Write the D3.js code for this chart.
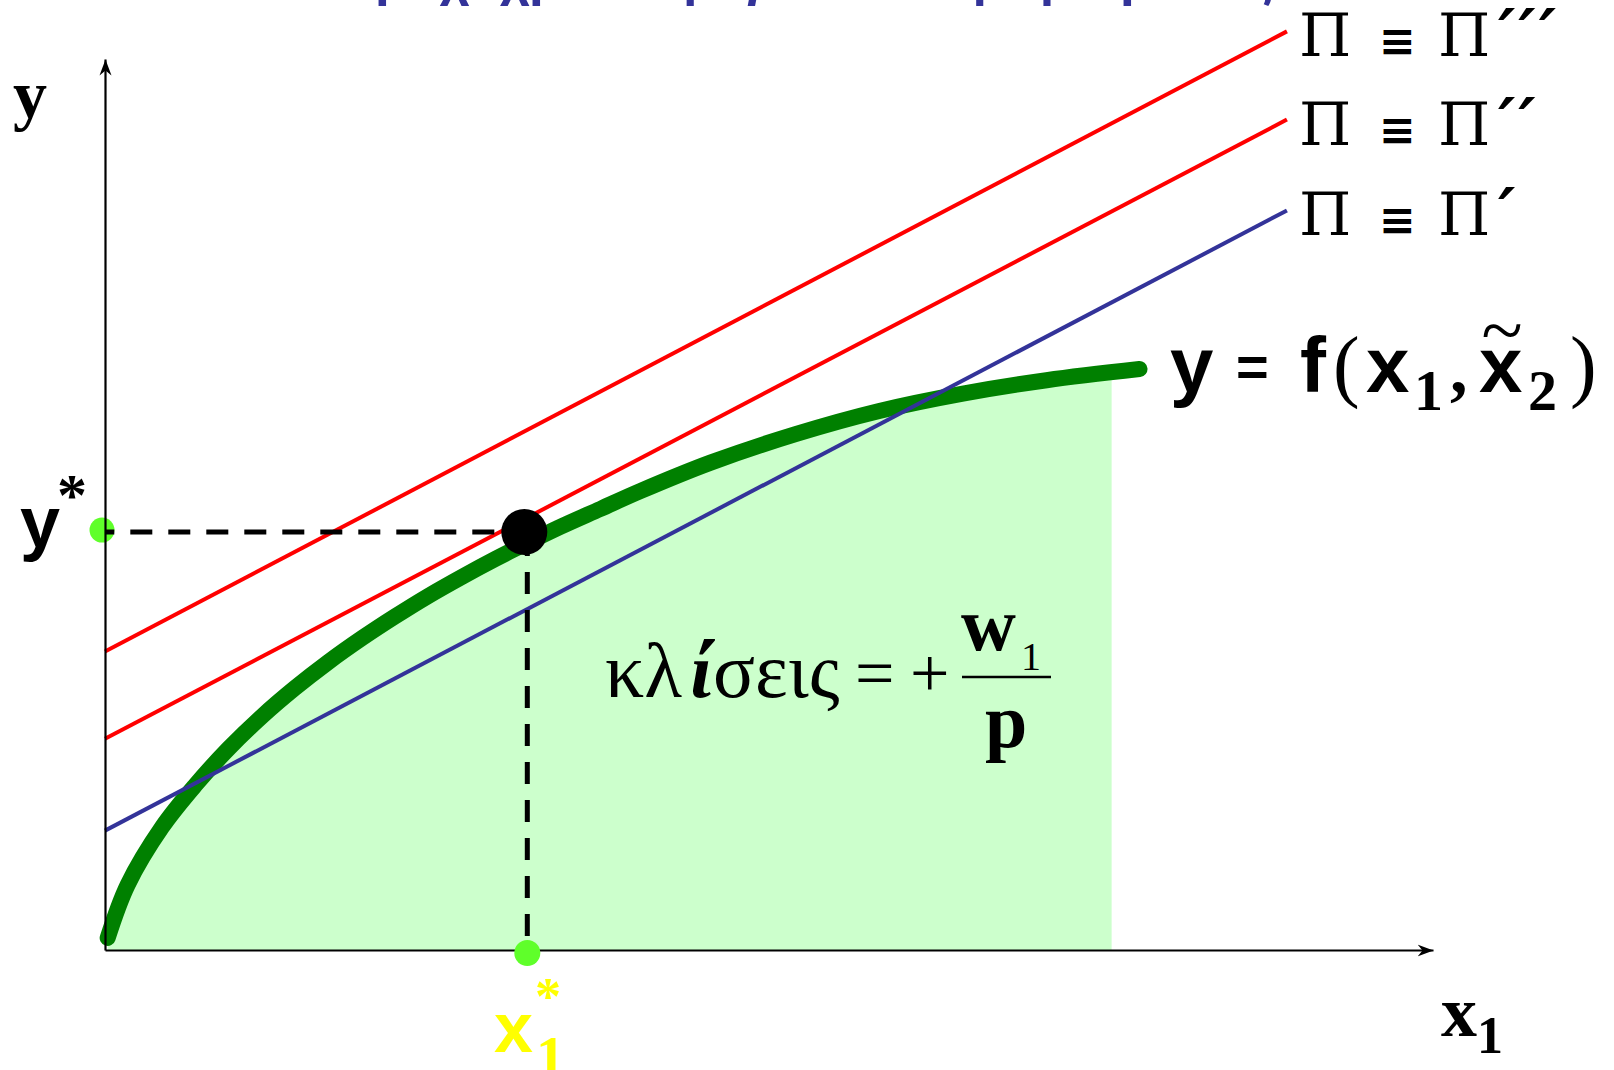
<!DOCTYPE html>
<html>
<head>
<meta charset="utf-8">
<script src="https://cdn.jsdelivr.net/npm/d3@7"></script>
<style>
  body { margin: 0; background: #fff; }
  svg { display: block; }
</style>
</head>
<body>
<svg id="chart" width="1614" height="1070"></svg>
<script>
// production function y = f(x1, x2~)
const curveX = [0.2, 1.7, 4.3, 6.8, 9.3, 11.8, 14.3, 16.8, 19.4, 21.8, 24.3, 26.9, 29.4, 31.6, 34.3, 37.3, 40.3, 45.6, 52.0, 58.3, 64.6, 70.9, 77.9];
const curveY = [1.35, 7.3, 13.8, 18.5, 22.6, 26.2, 29.4, 32.3, 35.05, 37.4, 39.7, 41.9, 43.9, 45.55, 47.5, 49.5, 51.5, 54.7, 57.9, 60.5, 62.45, 63.95, 65.2];
const fillEnd = 75.8;

// iso-profit lines, Π''' / Π'' / Π'
const isoPrimes = ["′′′", "′′", "′"];
const isoStartY = [33.5, 23.7, 13.4];
const isoEndY = [103.1, 93.2, 83.0];
const isoEndX = 89.0;

// optimum
const xStar = 31.8;
const yStar = 46.9;

const title = "Βραχυχρόνια μεγιστοποίηση κέρδους";

const svg = d3.select("#chart");
const x = d3.scaleLinear().domain([0, 100]).range([105, 1433]);
const y = d3.scaleLinear().domain([0, 100]).range([950, 59]);

const SERIF = "'Liberation Serif', 'Times New Roman', serif";
const SANS = "'Liberation Sans', Arial, sans-serif";
const DSERIF = "'DejaVu Serif', serif";

const curveData = curveX.map((v, i) => [v, curveY[i]]);

// arrow head for the axes
const defs = svg.append("defs");
defs.append("marker")
  .attr("id", "arrow")
  .attr("markerUnits", "userSpaceOnUse")
  .attr("viewBox", "-16 -8 18 16")
  .attr("markerWidth", 18).attr("markerHeight", 16)
  .attr("refX", 0).attr("refY", 0)
  .attr("orient", "auto")
  .append("path")
  .attr("d", "M0,0L-16,-6L-11,0L-16,6Z")
  .attr("fill", "#000");

defs.append("clipPath").attr("id", "fillClip")
  .append("rect")
  .attr("x", x(0)).attr("y", 0)
  .attr("width", x(fillEnd) - x(0)).attr("height", 1070);

// shaded area under the production function
svg.append("path")
  .datum(curveData)
  .attr("clip-path", "url(#fillClip)")
  .attr("fill", "#ccffcc")
  .attr("d", d3.area().x(d => x(d[0])).y0(y(0)).y1(d => y(d[1])).curve(d3.curveCatmullRom.alpha(0.5)));

// production curve
svg.append("path")
  .datum(curveData)
  .attr("fill", "none")
  .attr("stroke", "#008000")
  .attr("stroke-width", 16)
  .attr("stroke-linecap", "round")
  .attr("d", d3.line().x(d => x(d[0])).y(d => y(d[1])).curve(d3.curveCatmullRom.alpha(0.5)));

// iso-profit lines
const isoColor = ["#ff0000", "#ff0000", "#333399"];
isoStartY.forEach((s, i) => {
  svg.append("line")
    .attr("x1", x(0)).attr("y1", y(s))
    .attr("x2", x(isoEndX)).attr("y2", y(isoEndY[i]))
    .attr("stroke", isoColor[i])
    .attr("stroke-width", 4);
});

// green dot on the y axis (axis drawn over it)
svg.append("circle")
  .attr("cx", x(0) - 3).attr("cy", y(yStar) - 2).attr("r", 12.5)
  .attr("fill", "#5fff2a");

// axes: no ticks, just the domain line with an arrow
const gx = svg.append("g").attr("transform", `translate(0,${y(0)})`)
  .call(d3.axisBottom(x).tickValues([]).tickSizeOuter(0));
const gy = svg.append("g").attr("transform", `translate(${x(0)},0)`)
  .call(d3.axisLeft(y).tickValues([]).tickSizeOuter(0));
[gx, gy].forEach(g => {
  g.select(".domain")
    .attr("stroke", "#000")
    .attr("stroke-width", 2.2)
    .attr("marker-end", "url(#arrow)");
});

// dashed guides
svg.append("line")
  .attr("x1", x(xStar)).attr("y1", y(yStar))
  .attr("x2", x(0)).attr("y2", y(yStar))
  .attr("stroke", "#000").attr("stroke-width", 5)
  .attr("stroke-dasharray", "22,16").attr("stroke-dashoffset", 5);
svg.append("line")
  .attr("x1", x(xStar)).attr("y1", y(yStar))
  .attr("x2", x(xStar)).attr("y2", y(0))
  .attr("stroke", "#000").attr("stroke-width", 5)
  .attr("stroke-dasharray", "22,16").attr("stroke-dashoffset", 36);

// optimum point
svg.append("circle")
  .attr("cx", x(xStar) - 3).attr("cy", y(yStar))
  .attr("r", 23).attr("fill", "#000");

// green dot on the x axis
svg.append("circle")
  .attr("cx", x(xStar)).attr("cy", y(0) + 3).attr("r", 13)
  .attr("fill", "#5fff2a");

// helper: a text made of positioned pieces
function label(px, py, pieces, fill = "#000") {
  const t = svg.append("text").attr("fill", fill);
  pieces.forEach(p => {
    const s = t.append("tspan")
      .attr("x", px + p.dx)
      .attr("y", py + (p.dy || 0))
      .attr("font-family", p.font || SERIF)
      .attr("font-size", p.size)
      .attr("font-weight", p.bold ? "bold" : "normal")
      .attr("font-style", p.italic ? "italic" : "normal")
      .text(p.t);
    if (p.ls) s.attr("letter-spacing", p.ls);
  });
  return t;
}

// title, cut off at the top of the slide
svg.append("text")
  .attr("x", 338).attr("y", -5)
  .attr("font-family", SANS)
  .attr("font-size", 54)
  .attr("font-weight", "bold")
  .attr("fill", "#333399")
  .attr("textLength", 935)
  .attr("lengthAdjust", "spacingAndGlyphs")
  .text(title);

// Π ≡ Π', Π'', Π''' labels
isoPrimes.forEach((pr, i) => {
  label(x(isoEndX) + 12, y(isoEndY[i]) + 25, [
    { t: "Π", dx: 0, size: 60, font: DSERIF },
    { t: "≡", dx: 80, size: 44, font: "'DejaVu Sans', sans-serif", bold: true },
    { t: "Π", dx: 139, size: 60, font: DSERIF },
    { t: pr, dx: 199, size: 66, font: DSERIF, italic: true, bold: true, ls: 3 }
  ]);
});

// y = f(x1, x~2)
label(1170, 392, [
  { t: "y", dx: 0, size: 78, font: SANS, bold: true },
  { t: "=", dx: 66, size: 56, font: SANS, bold: true, dy: -6 },
  { t: "f", dx: 130, size: 78, font: SANS, bold: true },
  { t: "(", dx: 163, size: 80 },
  { t: "x", dx: 196, size: 78, font: SANS, bold: true },
  { t: "1", dx: 244, size: 58, bold: true, dy: 18 },
  { t: ",", dx: 280, size: 70, bold: true },
  { t: "x", dx: 309, size: 78, font: SANS, bold: true },
  { t: "2", dx: 358, size: 58, bold: true, dy: 18 },
  { t: ")", dx: 400, size: 80 }
]);
svg.append("text")
  .attr("x", 1502).attr("y", 356)
  .attr("text-anchor", "middle")
  .attr("font-family", SERIF)
  .attr("font-size", 76)
  .text("~");

// slope annotation
label(605, 697, [
  { t: "κλ", dx: 0, size: 78 },
  { t: "ί", dx: 85, size: 78, bold: true, italic: true },
  { t: "σεις", dx: 108, size: 78 },
  { t: "=", dx: 250, size: 70 },
  { t: "+", dx: 305, size: 70 }
]);
svg.append("line")
  .attr("x1", 962).attr("x2", 1051).attr("y1", 677).attr("y2", 677)
  .attr("stroke", "#000").attr("stroke-width", 2.5);
label(961, 650, [
  { t: "w", dx: 0, size: 76, bold: true },
  { t: "1", dx: 60, size: 40, dy: 20 }
]);
label(985, 747, [{ t: "p", dx: 0, size: 76, bold: true }]);

// axis labels
label(13, 118, [{ t: "y", dx: 0, size: 68, bold: true }]);
label(20, 547, [
  { t: "y", dx: 0, size: 72, font: SANS, bold: true },
  { t: "*", dx: 37, size: 60, bold: true, dy: -32 }
]);
label(494, 1052, [
  { t: "x", dx: 0, size: 70, font: SANS, bold: true },
  { t: "1", dx: 42, size: 58, bold: true, dy: 24 },
  { t: "*", dx: 41, size: 52, bold: true, dy: -38 }
], "#ffff00");
label(1441, 1036, [
  { t: "x", dx: 0, size: 72, bold: true },
  { t: "1", dx: 36, size: 52, bold: true, dy: 17 }
]);
</script>
</body>
</html>
